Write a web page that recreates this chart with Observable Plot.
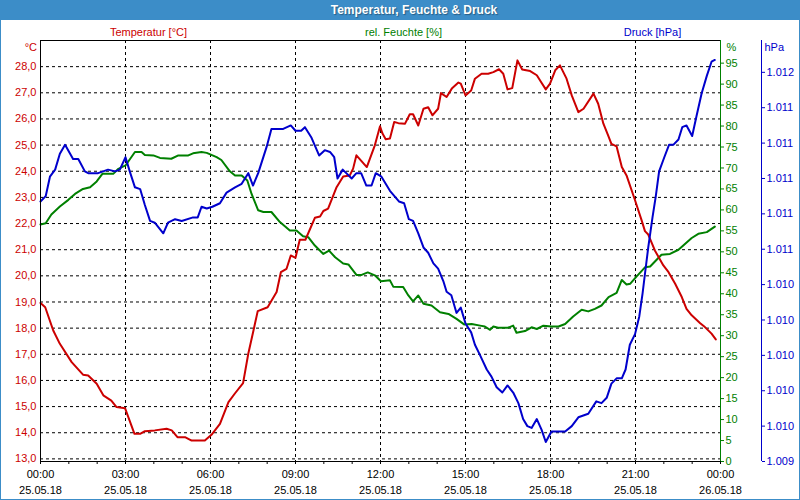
<!DOCTYPE html>
<html>
<head>
<meta charset="utf-8">
<script src="https://cdn.jsdelivr.net/npm/d3@7"></script>
<script src="https://cdn.jsdelivr.net/npm/@observablehq/plot@0.6"></script>
<style>
  html, body { margin: 0; padding: 0; background: #ffffff; }
  #page { position: relative; width: 800px; height: 500px; overflow: hidden; background: #ffffff; font-family: "Liberation Sans", sans-serif; }
  #title { position: absolute; left: 0; top: 0; width: 800px; height: 20px; box-sizing: border-box; padding-left: 28px; background: #3c8dc8; color: #ffffff; font: bold 12px "Liberation Sans", sans-serif; text-align: center; line-height: 20px; text-shadow: 1px 1px 1px rgba(0,0,0,0.35); }
  #chart { position: absolute; left: 0; top: 20px; }
  #border { position: absolute; left: 0; top: 0; width: 800px; height: 500px; box-sizing: border-box; border: 1px solid #3c8dc8; pointer-events: none; }
</style>
</head>
<body>
<div id="page">
  <div id="title"></div>
  <div id="chart"></div>
  <div id="border"></div>
</div>
<script>
// ---------- text ----------
const chartTitle = "Temperatur, Feuchte & Druck";
const seriesNames = ["Temperatur [°C]", "rel. Feuchte [%]", "Druck [hPa]"];
const unitLabels = ["°C", "%", "hPa"];

// ---------- axis ticks ----------
const tempTicks = [13, 14, 15, 16, 17, 18, 19, 20, 21, 22, 23, 24, 25, 26, 27, 28];
const humTicks = [0, 5, 10, 15, 20, 25, 30, 35, 40, 45, 50, 55, 60, 65, 70, 75, 80, 85, 90, 95];
const presTicks = [1009.4, 1009.6, 1009.8, 1010.0, 1010.2, 1010.4, 1010.6, 1010.8, 1011.0, 1011.2, 1011.4, 1011.6];
const majorHours = [0, 3, 6, 9, 12, 15, 18, 21, 24];
const minorHours = [0,1,2,3,4,5,6,7,8,9,10,11,12,13,14,15,16,17,18,19,20,21,22,23,24];

// axis domains
const tempDomain = [12.9, 29.0];
const humDomain = [0, 100.4];
const presDomain = [1009.4, 1011.78];

// ---------- data: minutes after 25.05.18 00:00 ----------
const tempMin = [0,10,27,41,66,90,101,119,133,150,161,179,199,211,221,242,267,278,290,306,320,348,362,380,398,412,429,440,451,460,481,500,509,521,530,540,549,561,581,592,599,609,627,641,655,662,669,691,708,719,724,731,740,749,758,772,782,789,800,811,821,830,842,848,860,871,885,890,900,912,920,934,948,959,971,980,989,999,1010,1020,1037,1051,1060,1070,1079,1090,1100,1114,1125,1139,1150,1171,1181,1192,1202,1209,1220,1231,1241,1259,1273,1280,1287,1301,1319,1330,1344,1358,1368,1379,1397,1407,1421,1430];
const tempVal = [18.96,18.80,17.91,17.40,16.70,16.22,16.19,15.87,15.43,15.23,14.98,14.94,13.96,13.96,14.06,14.09,14.15,14.09,13.83,13.83,13.70,13.70,13.92,14.34,15.17,15.51,15.90,17.02,17.91,18.65,18.80,19.38,20.14,20.27,20.78,20.69,21.38,21.38,22.22,22.27,22.48,22.57,23.39,23.80,23.84,24.10,24.61,24.16,24.99,25.72,25.45,25.22,25.25,25.88,25.84,25.82,26.18,26.18,25.75,26.39,26.45,26.14,26.39,26.99,26.84,27.16,27.39,27.35,26.90,27.09,27.54,27.73,27.73,27.79,27.90,27.73,27.13,27.18,28.24,27.89,27.83,27.67,27.41,27.13,27.35,27.86,28.05,27.54,26.90,26.26,26.39,26.97,26.58,25.82,25.37,25.05,24.95,24.16,23.84,22.89,22.12,21.71,21.58,20.97,20.40,20.14,19.70,19.19,18.74,18.49,18.19,18.04,17.79,17.57];

const humMin = [0,11,23,41,59,73,90,105,119,131,154,165,180,200,214,221,239,253,277,292,313,323,341,352,373,383,401,412,426,438,447,461,472,489,507,528,542,556,567,581,599,611,624,641,652,669,680,693,708,721,740,747,768,779,789,800,811,828,846,864,881,897,913,931,941,952,959,969,990,1001,1008,1026,1040,1051,1065,1082,1097,1111,1128,1146,1160,1174,1188,1203,1220,1231,1241,1249,1262,1280,1291,1315,1333,1351,1379,1393,1411,1428];
const humVal = [56.5,56.8,58.9,60.8,62.4,63.8,65.0,65.4,66.8,68.6,68.6,69.8,70.6,73.8,73.8,73.1,73.0,72.4,72.2,73.0,73.0,73.5,73.8,73.6,72.6,71.9,69.2,68.2,68.2,67.0,63.8,59.9,59.5,59.5,57.1,55.1,55.1,53.7,53.5,51.5,49.5,50.3,48.7,47.2,47.0,44.5,44.5,45.1,44.4,43.0,43.2,41.7,41.6,39.6,38.2,39.6,37.6,37.2,35.6,35.2,34.0,32.7,32.8,32.4,32.2,31.4,32.2,31.9,31.9,32.4,30.7,31.1,32.0,31.6,32.4,32.2,32.2,32.8,34.6,36.2,35.8,36.4,37.2,39.2,40.2,43.3,42.2,42.4,44.1,46.3,46.5,49.3,49.5,50.5,53.3,54.3,54.7,56.0];

const presMin = [0,11,20,31,41,52,69,80,94,101,122,143,158,168,180,189,200,211,221,232,242,260,270,285,299,323,333,341,352,364,380,394,412,426,440,450,461,479,489,514,530,540,552,560,574,590,602,613,622,629,640,659,669,679,690,701,710,722,740,759,770,780,789,800,811,821,832,842,853,860,870,881,890,900,912,920,931,945,955,966,978,989,1001,1012,1022,1031,1040,1051,1061,1070,1082,1111,1125,1139,1160,1177,1188,1199,1209,1220,1231,1239,1248,1259,1268,1275,1280,1287,1296,1303,1310,1321,1331,1340,1351,1359,1368,1380,1389,1400,1411,1421,1428];
const presVal = [1010.87,1010.90,1011.01,1011.05,1011.14,1011.19,1011.11,1011.11,1011.04,1011.03,1011.03,1011.05,1011.04,1011.05,1011.12,1011.04,1010.95,1010.94,1010.85,1010.76,1010.75,1010.69,1010.75,1010.77,1010.76,1010.78,1010.78,1010.84,1010.83,1010.84,1010.86,1010.92,1010.95,1010.97,1011.03,1010.96,1011.03,1011.18,1011.28,1011.28,1011.30,1011.27,1011.27,1011.29,1011.23,1011.13,1011.16,1011.15,1011.12,1011.00,1011.05,1011.00,1011.03,1011.03,1010.96,1010.96,1011.03,1011.01,1010.93,1010.87,1010.86,1010.77,1010.76,1010.69,1010.61,1010.58,1010.52,1010.49,1010.42,1010.36,1010.34,1010.24,1010.27,1010.18,1010.13,1010.06,1010.00,1009.92,1009.88,1009.82,1009.79,1009.83,1009.79,1009.73,1009.64,1009.60,1009.59,1009.64,1009.58,1009.51,1009.57,1009.57,1009.60,1009.65,1009.67,1009.74,1009.73,1009.76,1009.84,1009.87,1009.87,1009.92,1010.06,1010.12,1010.22,1010.35,1010.46,1010.61,1010.78,1010.90,1011.04,1011.12,1011.19,1011.19,1011.22,1011.29,1011.30,1011.24,1011.35,1011.48,1011.58,1011.66,1011.67];

// ---------- helpers ----------
const day0 = Date.UTC(2018, 4, 25);
const toDate = m => new Date(day0 + m * 60000);
const hourDate = h => new Date(day0 + h * 3600000);
const norm = (dom) => v => (v - dom[0]) / (dom[1] - dom[0]);
const unnorm = (dom) => t => dom[0] + t * (dom[1] - dom[0]);
const nT = norm(tempDomain), nH = norm(humDomain), nP = norm(presDomain);
const uT = unnorm(tempDomain), uH = unnorm(humDomain), uP = unnorm(presDomain);

const de = d3.formatLocale({decimal: ",", thousands: ".", grouping: [3], currency: ["", " €"]});
const f1 = de.format(".1f");
const f0 = de.format(",.0f");
const fTime = d3.utcFormat("%H:%M");
const fDay = d3.utcFormat("%d.%m.%y");

const tempData = tempMin.map((m, i) => ({t: toDate(m), v: nT(tempVal[i])}));
const humData = humMin.map((m, i) => ({t: toDate(m), v: nH(humVal[i])}));
const presData = presMin.map((m, i) => ({t: toDate(m), v: nP(presVal[i])}));

const RED = "#cc0000", GREEN = "#008000", BLUE = "#0000cc";
const xEnd = hourDate(24), xStart = hourDate(0);

document.getElementById("title").textContent = chartTitle;

const chart = Plot.plot({
  width: 800,
  height: 480,
  marginLeft: 40,
  marginRight: 80,
  marginTop: 20,
  marginBottom: 39,
  style: {fontFamily: "Liberation Sans, sans-serif", fontSize: "11px", background: "transparent", overflow: "visible"},
  x: {type: "utc", domain: [xStart, xEnd], label: null},
  y: {domain: [0, 1], label: null},
  marks: [
    // grid
    Plot.ruleY(tempTicks, {y: d => nT(d), stroke: "#000", strokeWidth: 1, strokeDasharray: "3,3"}),
    Plot.ruleX(majorHours.slice(1, -1), {x: d => hourDate(d), stroke: "#000", strokeWidth: 1, strokeDasharray: "3,3"}),
    // series
    Plot.line(humData, {x: "t", y: "v", stroke: GREEN, strokeWidth: 2}),
    Plot.line(tempData, {x: "t", y: "v", stroke: RED, strokeWidth: 2}),
    Plot.line(presData, {x: "t", y: "v", stroke: BLUE, strokeWidth: 2}),
    // frame lines
    Plot.ruleY([1], {stroke: "#000", strokeWidth: 1}),
    Plot.ruleY([0], {stroke: "#000", strokeWidth: 1}),
    Plot.ruleX([xStart], {stroke: "#000", strokeWidth: 1}),
    Plot.ruleX([xEnd], {stroke: GREEN, strokeWidth: 1}),
    Plot.ruleX([xEnd], {stroke: BLUE, strokeWidth: 1, dx: 41}),
    // y axes
    Plot.axisY(tempTicks.map(nT), {anchor: "left", label: null, tickSize: 0, tickPadding: 4, color: RED, tickFormat: d => f1(uT(d))}),
    Plot.axisY(humTicks.map(nH), {anchor: "right", label: null, tickSize: 3, tickPadding: 2, color: GREEN, tickFormat: d => f0(uH(d))}),
    Plot.axisY(presTicks.map(nP), {anchor: "right", label: null, dx: 41, tickSize: 3, tickPadding: 2, color: BLUE, tickFormat: d => f0(uP(d))}),
    // x axis
    Plot.axisX(minorHours.map(hourDate), {anchor: "bottom", label: null, tickSize: 3, color: "#000", tickFormat: () => ""}),
    Plot.axisX(majorHours.map(hourDate), {anchor: "bottom", label: null, tickSize: 3, tickPadding: 2, color: "#000", lineHeight: 1.45, tickFormat: d => fTime(d) + "\n" + fDay(d)}),
    // unit labels
    Plot.text([unitLabels[0]], {text: d => d, frameAnchor: "top-left", dx: -3.5, dy: 6.5, textAnchor: "end", lineAnchor: "middle", fill: RED}),
    Plot.text([unitLabels[1]], {text: d => d, frameAnchor: "top-right", dx: 6, dy: 6.5, textAnchor: "start", lineAnchor: "middle", fill: GREEN}),
    Plot.text([unitLabels[2]], {text: d => d, frameAnchor: "top-right", dx: 44, dy: 6.5, textAnchor: "start", lineAnchor: "middle", fill: BLUE}),
    // series names above the plot
    Plot.text([seriesNames[0]], {text: d => d, frameAnchor: "top", dx: -232, dy: -7.7, lineAnchor: "middle", fill: RED}),
    Plot.text([seriesNames[1]], {text: d => d, frameAnchor: "top", dx: 23, dy: -7.7, lineAnchor: "middle", fill: GREEN}),
    Plot.text([seriesNames[2]], {text: d => d, frameAnchor: "top", dx: 272, dy: -7.7, lineAnchor: "middle", fill: BLUE})
  ]
});
document.getElementById("chart").appendChild(chart);
</script>
</body>
</html>
